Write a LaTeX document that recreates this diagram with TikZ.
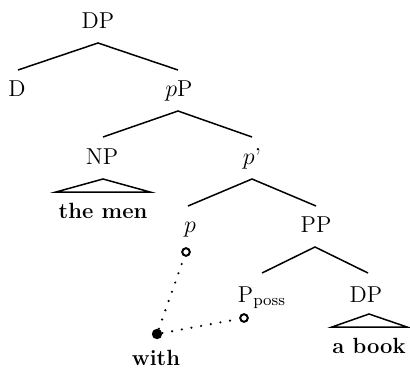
\documentclass[tikz,border=0pt]{standalone}
\begin{document}
\begin{tikzpicture}[x=0.5pt,y=-0.5pt,
  lbl/.style={anchor=base,inner sep=0pt,font=\fontsize{11.5pt}{14pt}\selectfont},
  word/.style={anchor=base,inner sep=0pt,font=\fontsize{11pt}{13pt}\selectfont\bfseries},
  branch/.style={line width=0.75pt},
  hollow/.style={circle,draw,line width=1pt,inner sep=0pt,minimum size=3.8pt,fill=white},
  solid dot/.style={circle,fill,inner sep=0pt,minimum size=5.2pt},
  trace/.style={line width=1.2pt,line cap=round,dash pattern=on 0pt off 4.9pt}]
\useasboundingbox (0,0) rectangle (410,368);

% category labels
\node[lbl] (dp)    at (98,29)  {DP};
\node[lbl] (d)     at (17,97)  {D};
\node[lbl] (pp1)   at (179,97) {$p$P};
\node[lbl] (np)    at (102,165) {NP};
\node[lbl] (pbar)  at (252,165) {$p$'};
\node[lbl] (p)     at (190,232) {$p$};
\node[lbl] (ppp)   at (316,232) {PP};
\node[lbl] (pposs) at (262,302) {P$_{\mathrm{poss}}$};
\node[lbl] (dp2)   at (366,302) {DP};

% words
\node[word] (themen) at (103,218) {the men};
\node[word] (abook)  at (369,353) {a book};
\node[word] (with)   at (156,365) {with};

% branching points and branch ends
\coordinate (dpA) at (98,43);
\coordinate (dpL) at (18,70);
\coordinate (dpR) at (178,70);
\coordinate (ppA) at (178,111);
\coordinate (ppL) at (103,137);
\coordinate (ppR) at (252,137);
\coordinate (pbA) at (252,179);
\coordinate (pbL) at (188,206);
\coordinate (pbR) at (316,206);
\coordinate (pqA) at (315,247);
\coordinate (pqL) at (262,273);
\coordinate (pqR) at (368,273);

\draw[branch] (dpL) -- (dpA) -- (dpR);
\draw[branch] (ppL) -- (ppA) -- (ppR);
\draw[branch] (pbL) -- (pbA) -- (pbR);
\draw[branch] (pqL) -- (pqA) -- (pqR);

% triangles over unanalysed phrases
\draw[branch] (56,192) -- (103,179) -- (150,192) -- cycle;
\draw[branch] (332,327) -- (369,314) -- (407,327) -- cycle;

% movement links
\node[solid dot] (src) at (157,334) {};
\node[hollow] (tp) at (186,252) {};
\node[hollow] (tq) at (244,318) {};
\draw[trace] (src) -- (tp);
\draw[trace] (src) -- (tq);
\end{tikzpicture}
\end{document}
